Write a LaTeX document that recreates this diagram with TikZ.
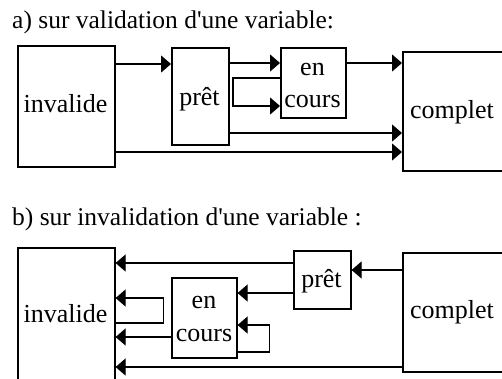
\documentclass[tikz,border=0pt]{standalone}
\usepackage{fontspec}
\setmainfont{Liberation Serif}
\usetikzlibrary{arrows.meta}
\tikzset{
  box/.style={draw, line width=1.6pt, inner sep=0pt, anchor=north west},
  lbl/.style={anchor=base, inner sep=0pt, font=\fontsize{26}{32}\selectfont},
  heading/.style={anchor=base west, inner sep=0pt, font=\fontsize{25.5}{32}\selectfont},
  link/.style={line width=1.2pt, -{Triangle[length=10pt,width=17pt]}}
}
\begin{document}
\begin{tikzpicture}[x=1pt, y=-1pt]
\useasboundingbox (0,0) rectangle (502,378);
\clip (0,0) rectangle (502,378);

% ---------- a) validation ----------
\node[heading] (ta) at (12,28) {a) sur validation d\textquotesingle une variable:};

\node[box, minimum width=97pt, minimum height=121pt] (invA) at (17,45) {};
\node[box, minimum width=57pt, minimum height=97pt]  (prA)  at (171,47) {};
\node[box, minimum width=65pt, minimum height=70pt]  (ecA)  at (280,47) {};
\node[box, minimum width=130pt, minimum height=119pt] (coA) at (402,51) {};

\node[lbl] (invAl) at (65.5,112) {invalide};
\node[lbl] (prAl)  at (199.5,105) {prêt};
\node[lbl] (ecAl1) at (312.5,75) {en};
\node[lbl] (ecAl2) at (312.5,107) {cours};
\node[lbl] (coAl)  at (452,118) {complet};

\draw[link] (invA.east |- 0,64) -- (prA.west |- 0,64);
\draw[link] (prA.east |- 0,63) -- (ecA.west |- 0,63);
\draw[link] (ecA.east |- 0,63) -- (coA.west |- 0,63);
\draw[link] (ecA.west |- 0,78) -- ++(-47,0) -- ++(0,28) -- (ecA.west |- 0,106);
\draw[link] (prA.east |- 0,133) -- (coA.west |- 0,133);
\draw[link] (invA.east |- 0,152) -- (coA.west |- 0,152);

% ---------- b) invalidation ----------
\node[heading] (tb) at (12,225) {b) sur invalidation d\textquotesingle une variable :};

\node[box, minimum width=97pt, minimum height=150pt] (invB) at (17,247) {};
\node[box, minimum width=57pt, minimum height=58pt]  (prB)  at (293,250) {};
\node[box, minimum width=65pt, minimum height=80pt]  (ecB)  at (171,277) {};
\node[box, minimum width=130pt, minimum height=119pt] (coB) at (402,252) {};

\node[lbl] (invBl) at (65.5,322) {invalide};
\node[lbl] (prBl)  at (321.5,287) {prêt};
\node[lbl] (ecBl1) at (204,308) {en};
\node[lbl] (ecBl2) at (204,341) {cours};
\node[lbl] (coBl)  at (452,318) {complet};

\draw[link] (prB.west |- 0,263) -- (invB.east |- 0,263);
\draw[link] (coB.west |- 0,270) -- (prB.east |- 0,270);
\draw[link] (prB.west |- 0,293) -- (ecB.east |- 0,293);
\draw[link] (invB.east |- 0,323) -- ++(48,0) -- ++(0,-25) -- (invB.east |- 0,298);
\draw[link] (ecB.east |- 0,352) -- ++(32,0) -- ++(0,-27) -- (ecB.east |- 0,325);
\draw[link] (ecB.west |- 0,337) -- (invB.east |- 0,337);
\draw[link] (coB.west |- 0,367) -- (invB.east |- 0,367);
\end{tikzpicture}
\end{document}
